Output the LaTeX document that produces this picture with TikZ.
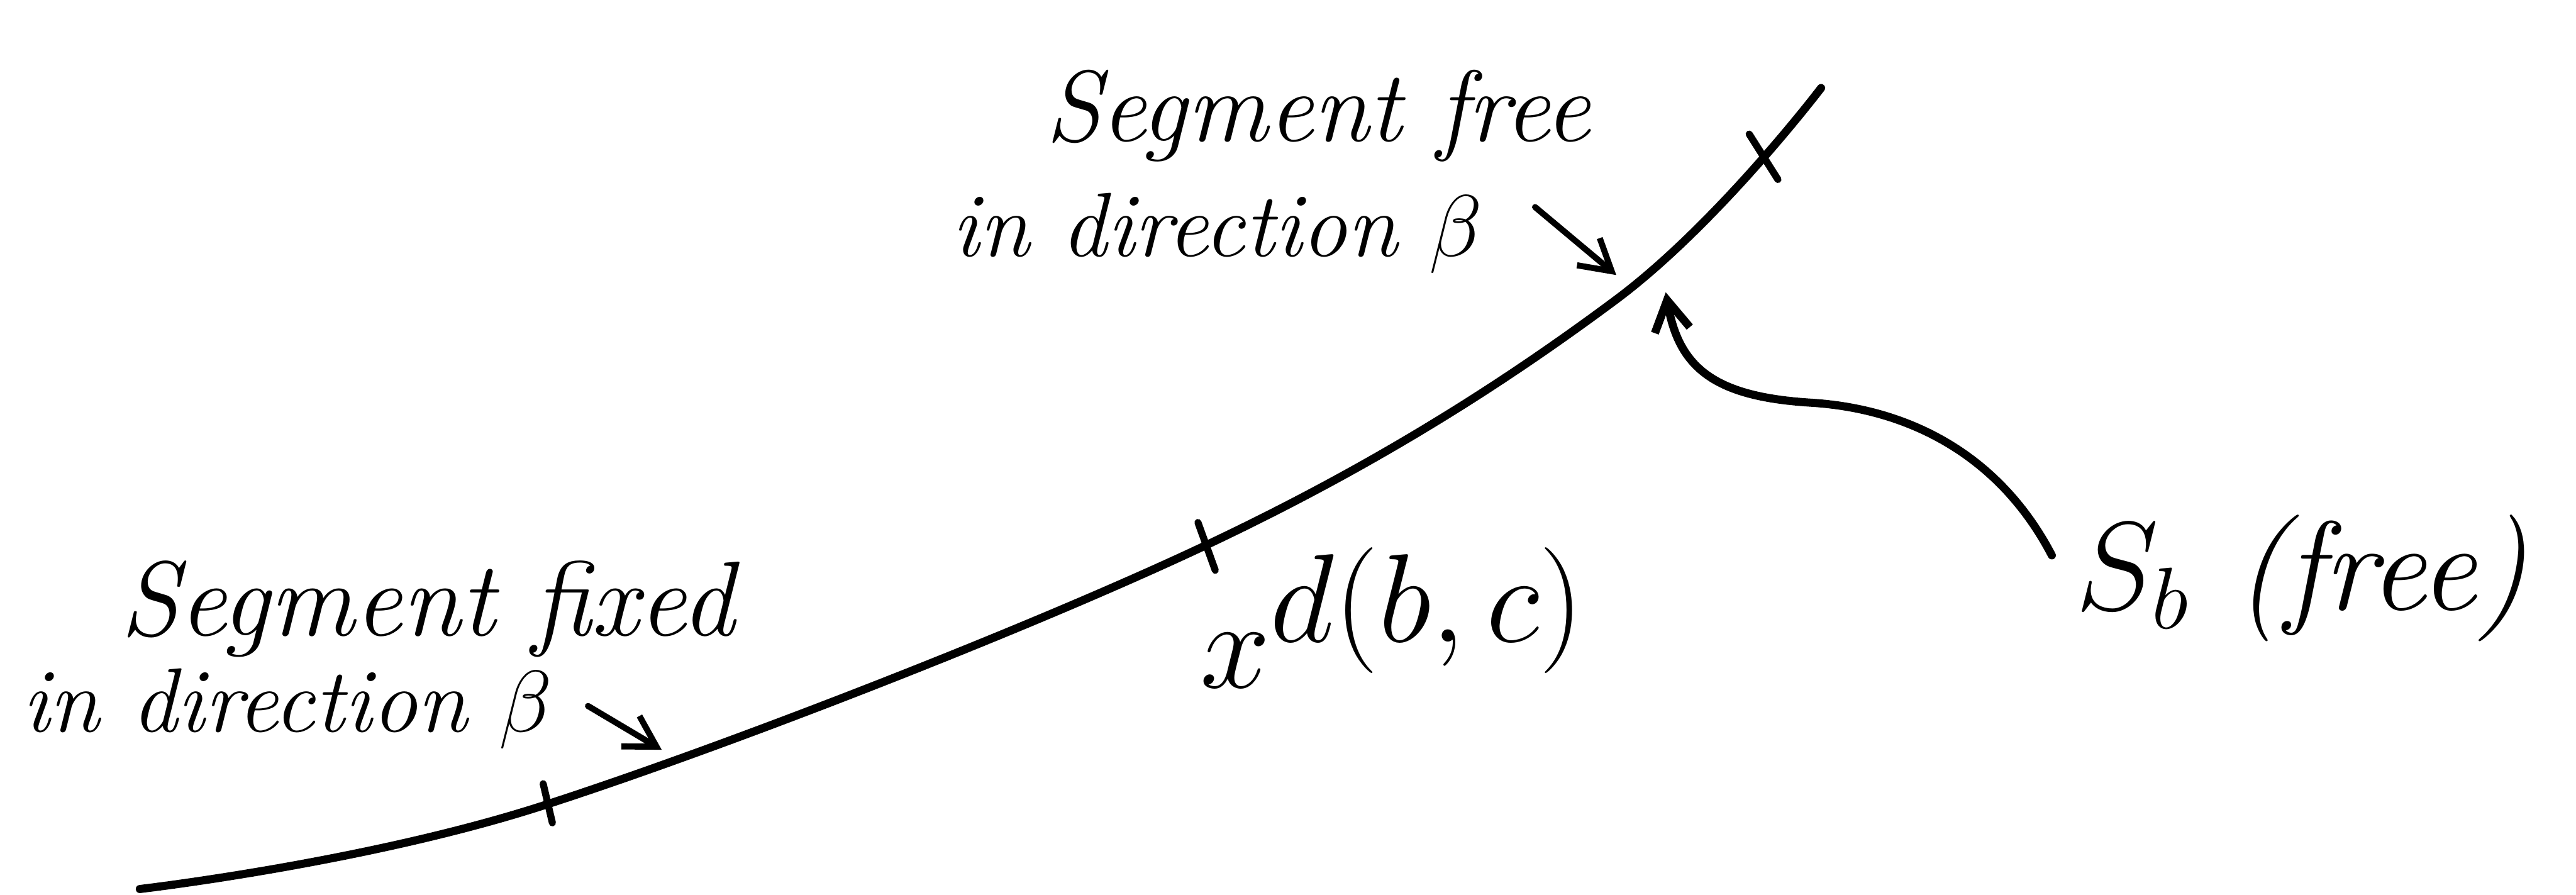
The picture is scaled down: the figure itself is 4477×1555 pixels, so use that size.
\documentclass[tikz,border=0pt]{standalone}
\usetikzlibrary{arrows.meta,positioning}

\begin{document}
\begin{tikzpicture}[
  x=0.004cm, y=-0.004cm,
  >={Straight Barb[length=6pt,width=7pt]},
  hand/.style={font=\fontsize{#1}{#1}\selectfont\itshape, inner sep=0pt, anchor=base west},
  curve/.style={line width=1.6pt, line cap=round},
  tickmark/.style={line width=1.4pt, line cap=round},
  pointer/.style={line width=1.2pt, line cap=round, ->}
]
  \useasboundingbox (0,0) rectangle (4477,1555);

  % the segment, lower left to upper right
  \draw[curve] plot[smooth, tension=0.6] coordinates
    {(243,1545) (944,1400) (2095,948) (2807,522) (3165,153)};

  % marks on the segment
  \draw[tickmark] (944,1362) -- (960,1430);
  \draw[tickmark] (2082,908) -- (2112,991);
  \draw[tickmark] (3040,233) -- (3090,312);

  \coordinate (fixpt) at (1150,1303);
  \coordinate (freept) at (2809,478);
  \coordinate (sbpt) at (2895,508);
  \coordinate (bend) at (3150,700);

  % Left: fixed part
  \node[hand=21] (fixA) at (208,1105) {Segment fixed};
  \node[hand=18] (fixB) at (37,1272) {in direction $\beta$};
  \draw[pointer] (fixB.east) ++(60,-5) -- (fixpt);

  % Top: free part
  \node[hand=20] (freeA) at (1815,245) {Segment free};
  \node[hand=18] (freeB) at (1653,445) {in direction $\beta$};
  \draw[pointer] (freeB.east) ++(90,-45) -- (freept);

  % label below the middle mark
  \node[hand=26] (xd) at (2084,1195) {$x^{\textstyle d(b,c)}$};

  % Right: S_b
  \node[hand=25] (sb) at (3606,1060) {$S_b$ (free)};
  \draw[curve, ->] (sb.west) ++(-40,-40) .. controls (3480,800) and (3330,712) .. (bend)
    .. controls (2980,690) and (2918,640) .. (sbpt);
\end{tikzpicture}
\end{document}
